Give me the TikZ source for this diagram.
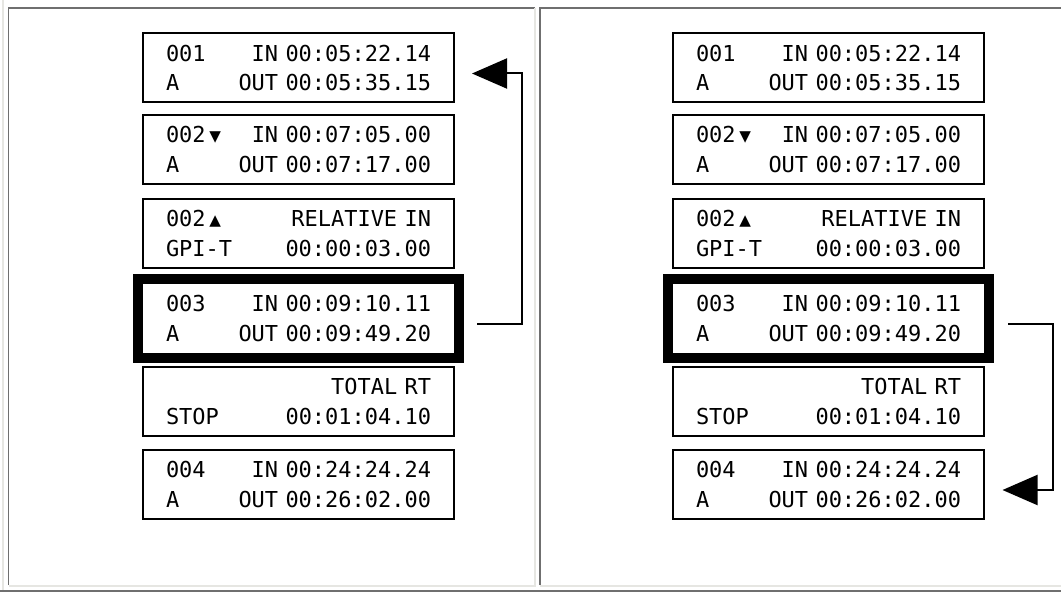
\documentclass[tikz,border=0pt]{standalone}
\usepackage{fontspec}
\usepackage{xcolor}
\usetikzlibrary{arrows.meta,positioning}
\newfontfamily\cuemono{DejaVu Sans Mono}
\newcommand{\cuefont}{\cuemono\fontsize{12.5}{17}\selectfont}
\newcommand{\tridown}{\,{\fontsize{11}{11}\selectfont▼}}
\newcommand{\triup}{\,{\fontsize{11}{11}\selectfont▲}}
\definecolor{framedark}{HTML}{6F6F6F}
\definecolor{framelight}{HTML}{E6E6E2}

\tikzset{
  cue/.style={draw, line width=0.04cm, minimum width=6.22cm, minimum height=1.38cm,
    text width=5.3cm, align=left, inner sep=0pt, font=\cuefont},
  cuecur/.style={cue, line width=0.2cm, minimum width=6.42cm, minimum height=1.58cm},
  jump/.style={line width=0.04cm, -{Triangle[length=0.7cm,width=0.6cm]}},
  rim/.style={line width=0.04cm},
}

\begin{document}
\begin{tikzpicture}
  \useasboundingbox (0,0) rectangle (21.22,-11.84);

  % table frame
  \draw[rim, framelight] (0.06,0) -- (0.06,-11.8);
  \draw[rim, framedark] (0,-11.81) -- (21.22,-11.81);
  \draw[rim, framedark] (0.17,-11.7) -- (0.17,-0.16) -- (10.7,-0.16);
  \draw[rim, framelight] (0.17,-11.71) -- (10.7,-11.71) -- (10.7,-0.16);
  \draw[rim, framedark] (10.79,-11.7) -- (10.79,-0.16) -- (21.22,-0.16);
  \draw[rim, framelight] (10.79,-11.71) -- (21.22,-11.71);

  % Left list: jump back to 001
  \begin{scope}
    \node[cue] (a1) at (5.97,-1.36) {001\hfill IN 00:05:22.14\\A\hfill OUT 00:05:35.15};
    \node[cue] (a2) at (5.97,-2.99) {002\tridown\hfill IN 00:07:05.00\\A\hfill OUT 00:07:17.00};
    \node[cue] (a3) at (5.97,-4.67) {002\triup\hfill RELATIVE IN\\GPI-T\hfill 00:00:03.00};
    \node[cuecur] (a4) at (5.97,-6.37) {003\hfill IN 00:09:10.11\\A\hfill OUT 00:09:49.20};
    \node[cue] (a5) at (5.97,-8.03) {\mbox{}\hfill TOTAL RT\\STOP\hfill 00:01:04.10};
    \node[cue] (a6) at (5.97,-9.69) {004\hfill IN 00:24:24.24\\A\hfill OUT 00:26:02.00};

    \draw[jump] ([xshift=0.26cm,yshift=-0.1cm]a4.east) -- ++(0.9,0) |- ([xshift=0.34cm,yshift=-0.11cm]a1.east);
  \end{scope}

  % Right list: jump on to 004
  \begin{scope}[xshift=10.6cm]
    \node[cue] (b1) at (5.97,-1.36) {001\hfill IN 00:05:22.14\\A\hfill OUT 00:05:35.15};
    \node[cue] (b2) at (5.97,-2.99) {002\tridown\hfill IN 00:07:05.00\\A\hfill OUT 00:07:17.00};
    \node[cue] (b3) at (5.97,-4.67) {002\triup\hfill RELATIVE IN\\GPI-T\hfill 00:00:03.00};
    \node[cuecur] (b4) at (5.97,-6.37) {003\hfill IN 00:09:10.11\\A\hfill OUT 00:09:49.20};
    \node[cue] (b5) at (5.97,-8.03) {\mbox{}\hfill TOTAL RT\\STOP\hfill 00:01:04.10};
    \node[cue] (b6) at (5.97,-9.69) {004\hfill IN 00:24:24.24\\A\hfill OUT 00:26:02.00};

    \draw[jump] ([xshift=0.28cm,yshift=-0.1cm]b4.east) -- ++(0.9,0) |- ([xshift=0.35cm,yshift=-0.11cm]b6.east);
  \end{scope}
\end{tikzpicture}
\end{document}
